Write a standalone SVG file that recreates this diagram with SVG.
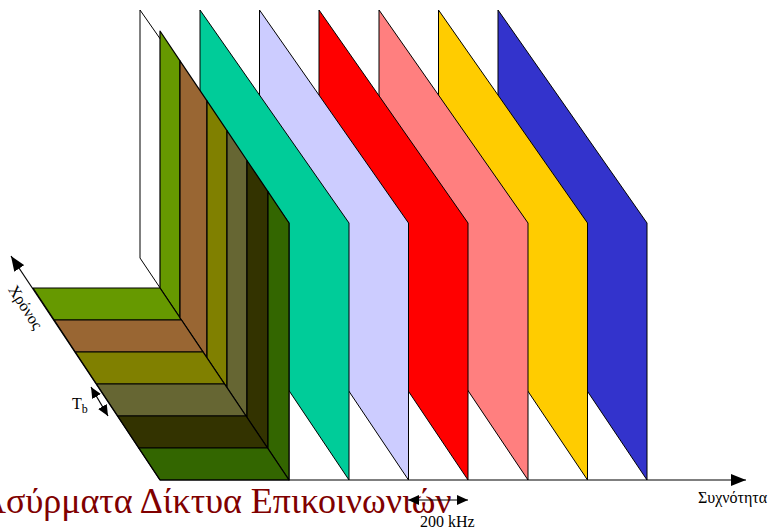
<svg xmlns="http://www.w3.org/2000/svg" width="772" height="527" viewBox="0 0 772 527">
<style>
.pan{stroke:#000;stroke-width:1;stroke-linejoin:round}
.col{stroke:#000;stroke-width:1.2;stroke-linejoin:round}
.flr{stroke:#000;stroke-width:1.2;stroke-linejoin:round}
.ax{stroke:#000;stroke-width:1.2;fill:none}
.lbl{font-family:"Liberation Serif","Times New Roman",serif;fill:#000}
.ttl{font-family:"Liberation Serif","Times New Roman",serif;fill:#800000}
</style>
<defs>
<marker id="ahBig" markerUnits="userSpaceOnUse" markerWidth="16" markerHeight="12" refX="15" refY="6" orient="auto"><path d="M0,0 L15,6 L0,12 z" fill="#000"/></marker>
<marker id="ahSm" markerUnits="userSpaceOnUse" markerWidth="12" markerHeight="10" refX="11" refY="5" orient="auto-start-reverse"><path d="M0,0 L11,5 L0,10 z" fill="#000"/></marker>
</defs>
<rect width="772" height="527" fill="#fff"/>
<g id="title"><text class="ttl" x="-20" y="513" font-size="36">Ασύρματα Δίκτυα Επικοινωνιών</text></g>
<g id="panels">
<g id="ch8"><polygon class="pan" fill="#3333CC" points="498,10 647,223 647,480 498,258"/></g>
<g id="ch7"><polygon class="pan" fill="#FFCC00" points="438.5,10 587.5,223 587.5,480 438.5,258"/></g>
<g id="ch6"><polygon class="pan" fill="#FF7F7F" points="379,10 528,223 528,480 379,258"/></g>
<g id="ch5"><polygon class="pan" fill="#FF0000" points="319,10 468,223 468,480 319,258"/></g>
<g id="ch4"><polygon class="pan" fill="#CCCCFF" points="259.5,10 408.5,223 408.5,480 259.5,258"/></g>
<g id="ch3"><polygon class="pan" fill="#00CC99" points="200,10 349,223 349,480 200,258"/></g>
<g id="ch1"><polygon class="pan" fill="#FFFFFF" points="140,10 289,223 289,480 140,258"/></g>
</g>
<g id="slots">
<g id="slot1"><polygon class="col" fill="#669900" points="160,31 180,60.8 180,317.8 160,288"/><polygon class="flr" fill="#669900" points="33,288 160,288 181.5,320 54.2,320"/></g>
<g id="slot2"><polygon class="col" fill="#996633" points="180,60.8 207,100.9 207,357.9 180,317.8"/><polygon class="flr" fill="#996633" points="54.2,320 181.5,320 203,352 75.3,352"/></g>
<g id="slot3"><polygon class="col" fill="#808000" points="207,100.9 227,130.7 227,387.7 207,357.9"/><polygon class="flr" fill="#808000" points="75.3,352 203,352 224.5,384 96.5,384"/></g>
<g id="slot4"><polygon class="col" fill="#666633" points="227,130.7 247,160.5 247,417.5 227,387.7"/><polygon class="flr" fill="#666633" points="96.5,384 224.5,384 246,416 117.7,416"/></g>
<g id="slot5"><polygon class="col" fill="#333300" points="247,160.5 268,191.7 268,448.7 247,417.5"/><polygon class="flr" fill="#333300" points="117.7,416 246,416 267.5,448 138.8,448"/></g>
<g id="slot6"><polygon class="col" fill="#336600" points="268,191.7 289,223 289,480 268,448.7"/><polygon class="flr" fill="#336600" points="138.8,448 267.5,448 289,480 160,480"/></g>
</g>
<g id="connectors">
<line class="ax" x1="160" y1="480" x2="746" y2="480" stroke="#444" marker-end="url(#ahBig)"/>
<line class="ax" x1="160" y1="480" x2="11" y2="256" marker-end="url(#ahBig)"/>
<line class="ax" x1="91" y1="387" x2="108" y2="416" marker-start="url(#ahSm)" marker-end="url(#ahSm)"/>
<line class="ax" x1="408" y1="500" x2="468" y2="500" marker-start="url(#ahSm)" marker-end="url(#ahSm)"/>
</g>
<g id="labels">
<text class="lbl" font-size="16" transform="translate(21,310) rotate(57)" text-anchor="middle">Χρόνος</text>
<text class="lbl" font-size="16" x="72" y="409">T<tspan font-size="12" dy="4">b</tspan></text>
<text class="lbl" font-size="16" x="698" y="503">Συχνότητα</text>
<text class="lbl" font-size="16" x="420" y="527">200 kHz</text>
</g>
</svg>
